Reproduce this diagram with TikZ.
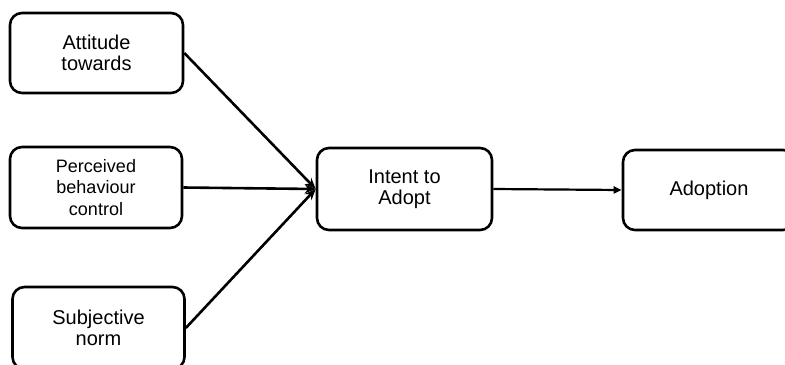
\documentclass[tikz,border=0pt]{standalone}
\usepackage{fontspec}
\setmainfont{Liberation Sans}
\usetikzlibrary{arrows.meta}
\tikzset{
  factor/.style={draw, line width=2.6bp, rounded corners=12bp, align=center,
    font=\fontsize{20bp}{21bp}\selectfont, inner sep=0pt},
  link/.style={line width=2.6bp, -{Stealth[length=11bp,width=9bp]}}
}
\begin{document}
\begin{tikzpicture}[x=1bp,y=-1bp]
	\clip (0,0) rectangle (785,364);
	\node[factor, minimum width=173bp, minimum height=80bp] (att) at (96.5,53) {Attitude\\towards};
	\node[factor, minimum width=172bp, minimum height=81bp,
	      font=\fontsize{18bp}{21.5bp}\selectfont] (pbc) at (96,187.5) {Perceived\\behaviour\\control};
	\node[factor, minimum width=172bp, minimum height=82bp] (norm) at (98.5,328) {Subjective\\norm};
	\node[factor, minimum width=175bp, minimum height=82bp] (intent) at (404.5,189) {Intent to\\Adopt};
	\node[factor, minimum width=172bp, minimum height=80bp] (adopt) at (709,190) {Adoption};
	% three factors into intent
	\draw[link] (att.east) -- (intent.west);
	\draw[link] (pbc.east) -- (intent.west);
	\draw[link] (norm.east) -- (intent.west);
	\draw[line width=2.2bp, -{Triangle[length=8bp,width=7bp]}] (intent.east) -- (adopt.west);
\end{tikzpicture}
\end{document}
